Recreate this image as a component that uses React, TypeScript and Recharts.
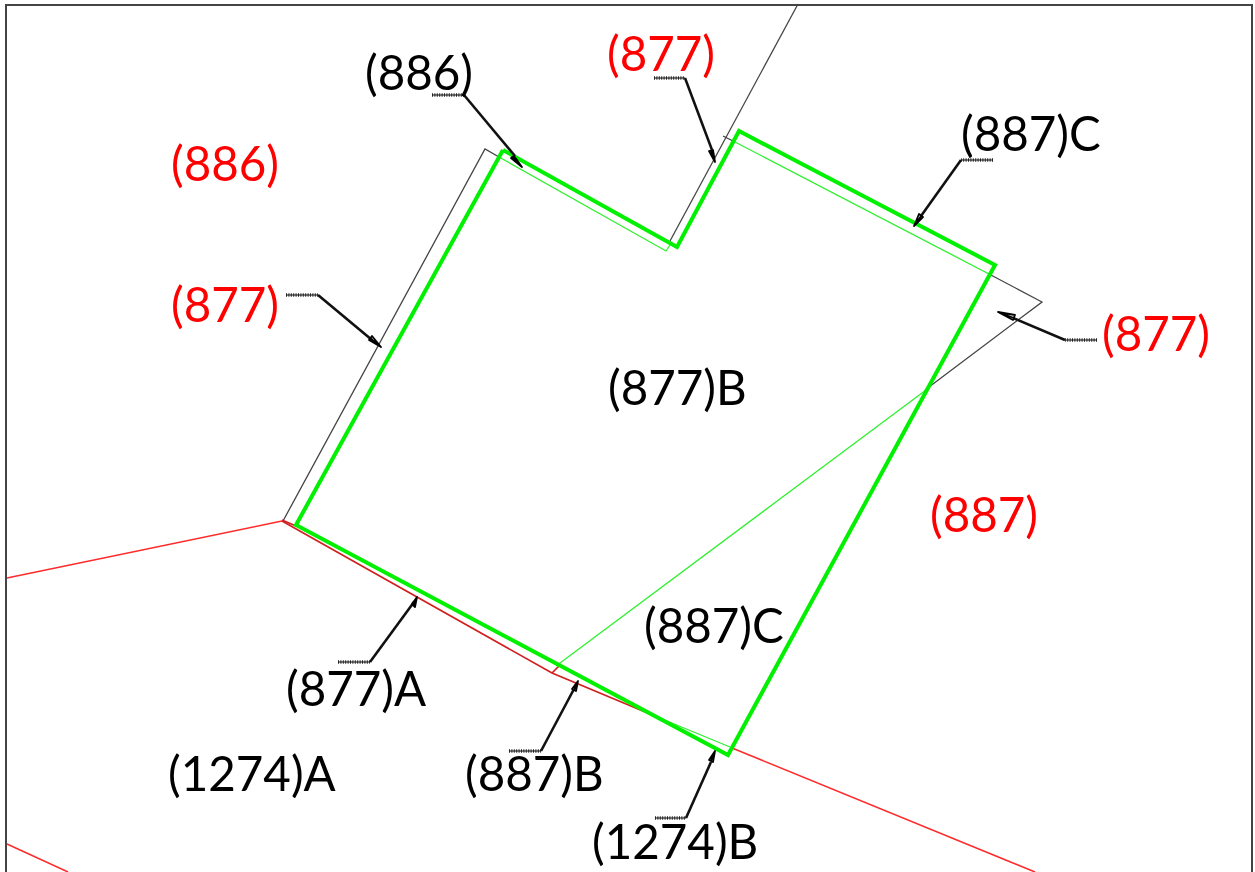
import { ComposedChart, Line, Scatter, XAxis, YAxis } from "recharts";

type Pt = { x: number; y: number };
type Label = Pt & { text: string };

const pts = (...xy: number[]): Pt[] => {
  const out: Pt[] = [];
  for (let i = 0; i < xy.length; i += 2) out.push({ x: xy[i], y: xy[i + 1] });
  return out;
};

// ---- parcel outlines ----
const frame = pts(6, 872, 6, 5, 1252, 5, 1252, 872);

const newBoundary = pts(503, 150, 677, 247, 739, 131, 995, 265, 728, 755, 296, 525, 503, 150);

const thinGreen = [
  pts(499, 157, 666, 251, 672, 242),
  pts(735, 142, 989, 274),
  pts(926, 390, 556, 666),
  pts(650, 714, 730, 747),
];

const oldBoundary = [
  pts(283, 521, 485, 149, 499, 157),
  pts(670, 241, 798, 4),
  pts(723, 136, 735, 142),
  pts(989, 274, 1042, 302, 925, 390),
];

const redLines = [
  pts(7, 578, 282, 521),
  pts(732, 748, 1035, 872),
  pts(7, 844, 68, 872),
];

const darkRedLines = [
  pts(282, 520, 296, 526),
  pts(282, 521, 552, 673, 650, 714),
  pts(552, 673, 560, 665),
];

// ---- leader lines: hatched stub, slanted run, arrow head ----
const stubs = [
  pts(432, 95, 464, 95),
  pts(654, 78, 685, 78),
  pts(993, 160, 961, 160),
  pts(1097, 340, 1065, 340),
  pts(286, 295, 318, 295),
  pts(338, 662, 370, 662),
  pts(509, 751, 541, 751),
  pts(655, 818, 686, 818),
];

const runs = [
  pts(464, 95, 515, 156),
  pts(685, 78, 712, 150),
  pts(961, 160, 921, 216),
  pts(1065, 340, 1013, 318),
  pts(318, 295, 372, 340),
  pts(370, 662, 414, 602),
  pts(541, 751, 574, 689),
  pts(686, 818, 711, 762),
];

// tip, base, base, tip, base centre: the last leg closes up the middle of the head
const heads = [
  pts(522, 167, 511, 158, 514, 156, 522, 167, 512, 157),
  pts(715, 162, 709, 151, 713, 150, 715, 162, 711, 150),
  pts(914, 226, 919, 214, 923, 217, 914, 226, 921, 216),
  pts(998, 312, 1015, 315, 1013, 320, 998, 312, 1014, 318),
  pts(381, 347, 369, 340, 372, 336, 381, 347, 370, 338),
  pts(417, 597, 415, 607, 412, 604, 417, 597, 414, 606),
  pts(578, 681, 576, 691, 572, 689, 578, 681, 574, 690),
  pts(715, 751, 713, 762, 709, 760, 715, 751, 711, 761),
];

// ---- parcel labels ----
const redLabels: Label[] = [
  { x: 607, y: 71, text: "(877)" },
  { x: 171, y: 181, text: "(886)" },
  { x: 171, y: 322, text: "(877)" },
  { x: 1102, y: 351, text: "(877)" },
  { x: 930, y: 532, text: "(887)" },
];

const blackLabels: Label[] = [
  { x: 365, y: 90, text: "(886)" },
  { x: 961, y: 151, text: "(887)C" },
  { x: 608, y: 405, text: "(877)B" },
  { x: 644, y: 643, text: "(887)C" },
  { x: 286, y: 706, text: "(877)A" },
  { x: 168, y: 791, text: "(1274)A" },
  { x: 465, y: 791, text: "(887)B" },
  { x: 592, y: 859, text: "(1274)B" },
];

const GREEN = "#00f000";
const RED = "#ff2a2a";

function labelShape(color: string) {
  return (props: any) => (
    <text
      x={props.cx}
      y={props.cy}
      fill={color}
      fontFamily="Lato, 'Open Sans', sans-serif"
      fontSize={47.5}
      textAnchor="start"
    >
      {props.payload.text}
    </text>
  );
}

function drawLines(
  list: Pt[][],
  name: string,
  stroke: string,
  strokeWidth: number,
  extra: Record<string, unknown> = {}
) {
  return list.map((data, i) => (
    <Line
      key={`${name}-${i}`}
      data={data}
      dataKey="y"
      type="linear"
      stroke={stroke}
      strokeWidth={strokeWidth}
      dot={false}
      activeDot={false}
      legendType="none"
      isAnimationActive={false}
      {...extra}
    />
  ));
}

export default function App() {
  return (
    <div
      style={{
        position: "absolute",
        left: 0,
        top: 0,
        background: "#fff",
        filter: "blur(0.35px)",
      }}
    >
      <ComposedChart
        width={1255}
        height={872}
        margin={{ top: 0, right: 0, bottom: 0, left: 0 }}
      >
        <XAxis type="number" dataKey="x" domain={[0, 1255]} hide allowDataOverflow />
        <YAxis type="number" dataKey="y" domain={[0, 872]} reversed hide allowDataOverflow />

        {drawLines([frame], "frame", "#444", 2)}
        {drawLines(oldBoundary, "old", "#444", 1.3)}
        {drawLines(redLines, "red", RED, 1.5)}
        {drawLines(darkRedLines, "darkred", "#d02020", 1.7)}
        {drawLines(thinGreen, "thin", "#2ff02f", 1.3)}
        {drawLines([newBoundary], "new", GREEN, 4, { strokeLinejoin: "miter" })}

        {drawLines(stubs, "stub", "#333", 1.2)}
        {drawLines(stubs, "hatch", "#222", 3.4, { strokeDasharray: "1 1.4" })}
        {drawLines(runs, "run", "#111", 2.6)}
        {drawLines(heads, "head", "#000", 1.8, { strokeLinejoin: "round" })}

        <Scatter data={redLabels} shape={labelShape("#ff0000")} isAnimationActive={false} />
        <Scatter data={blackLabels} shape={labelShape("#000000")} isAnimationActive={false} />
      </ComposedChart>
    </div>
  );
}
